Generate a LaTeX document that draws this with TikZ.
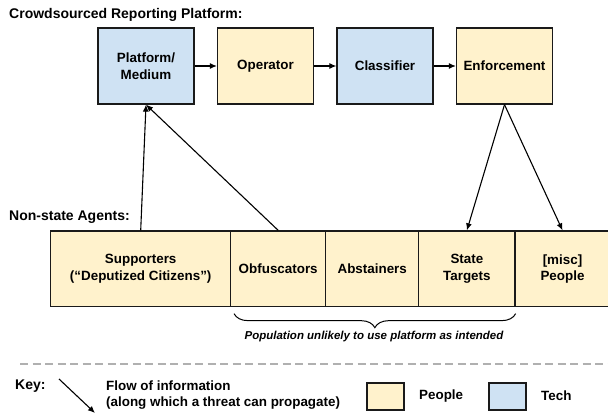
\documentclass[tikz,border=0pt]{standalone}
\usepackage{fontspec}
\setmainfont{Liberation Sans}
\usetikzlibrary{arrows.meta,decorations.pathreplacing}
\definecolor{peoplefill}{HTML}{FFF2CC}
\definecolor{techfill}{HTML}{CFE2F3}
\definecolor{edgecol}{HTML}{1A1A1A}
\definecolor{dashcol}{HTML}{B0B0B0}
\begin{document}
\begin{tikzpicture}[x=1pt,y=-1pt,
  every node/.style={font=\fontsize{13.4}{16.5}\selectfont\bfseries, inner sep=0pt},
  nodebox/.style={draw=edgecol, line width=1.3pt, align=center, minimum height=76pt},
  people/.style={nodebox, fill=peoplefill},
  tech/.style={nodebox, fill=techfill},
  heading/.style={font=\fontsize{14}{16}\selectfont\bfseries, anchor=west},
  flow/.style={draw=black, line width=1.1pt, -{Latex[length=7pt,width=6pt]}},
  lowbox/.style={people, minimum height=75.7pt},
]
\useasboundingbox (0,0) rectangle (608,415);

% headings
\node[heading] (title) at (9,15) {Crowdsourced Reporting Platform:};
\node[heading] (nsa) at (9,217) {Non-state Agents:};

% platform pipeline
\node[tech, minimum width=96pt] (plat) at (146,66) {Platform/\\Medium};
\node[people, minimum width=96pt] (oper) at (265.5,66) {Operator};
\node[tech, minimum width=96pt] (clas) at (385,66) {Classifier};
\node[people, minimum width=96pt] (enf) at (504.5,66) {Enforcement};

% agents
\node[lowbox, minimum width=180pt] (sup) at (140.7,268.85) {Supporters\\(“Deputized Citizens”)};
\node[lowbox, minimum width=95pt] (obf) at (278.2,268.85) {Obfuscators};
\node[lowbox, minimum width=93.1pt] (abs) at (372.25,268.85) {Abstainers};
\node[lowbox, minimum width=96.2pt] (st) at (466.9,268.85) {State\\Targets};
\node[lowbox, minimum width=95pt] (misc) at (562.5,268.85) {[misc]\\People};

% flows
\draw[flow] (plat) -- (oper);
\draw[flow] (oper) -- (clas);
\draw[flow] (clas) -- (enf);
\draw[flow] (sup.north) -- (plat.south);
\draw[flow] (obf.north) -- (plat.south);
\draw[flow] (enf.south) -- (st.north);
\draw[flow] (enf.south) -- (misc.north);

% brace
\draw[line width=1pt, decorate, decoration={brace, mirror, amplitude=14pt}]
  ([xshift=4pt, yshift=-6.3pt]obf.south west) -- ([yshift=-6.3pt]st.south east);
\node[font=\fontsize{11.5}{13}\selectfont\bfseries\itshape] (pop) at (374,337)
  {Population unlikely to use platform as intended};

% separator
\coordinate (sepa) at (20,364);
\coordinate (sepb) at (612,364);
\draw[dashcol, line width=2pt, dash pattern=on 8pt off 4.5pt] (sepa) -- (sepb);

% key
\node[heading] (key) at (15,386) {Key:};
\coordinate (ka) at (59,379);
\coordinate (kb) at (95,413);
\draw[flow] (ka) -- (kb);
\node[anchor=west, align=left] (flowtxt) at (106,395)
  {Flow of information\\(along which a threat can propagate)};
\node[people, minimum width=37pt, minimum height=27pt] (kp) at (385.5,396.5) {};
\node[anchor=west] (kpl) at (419,396) {People};
\node[tech, minimum width=37pt, minimum height=27pt] (kt) at (507.5,396.5) {};
\node[anchor=west] (ktl) at (541,396) {Tech};
\end{tikzpicture}
\end{document}
